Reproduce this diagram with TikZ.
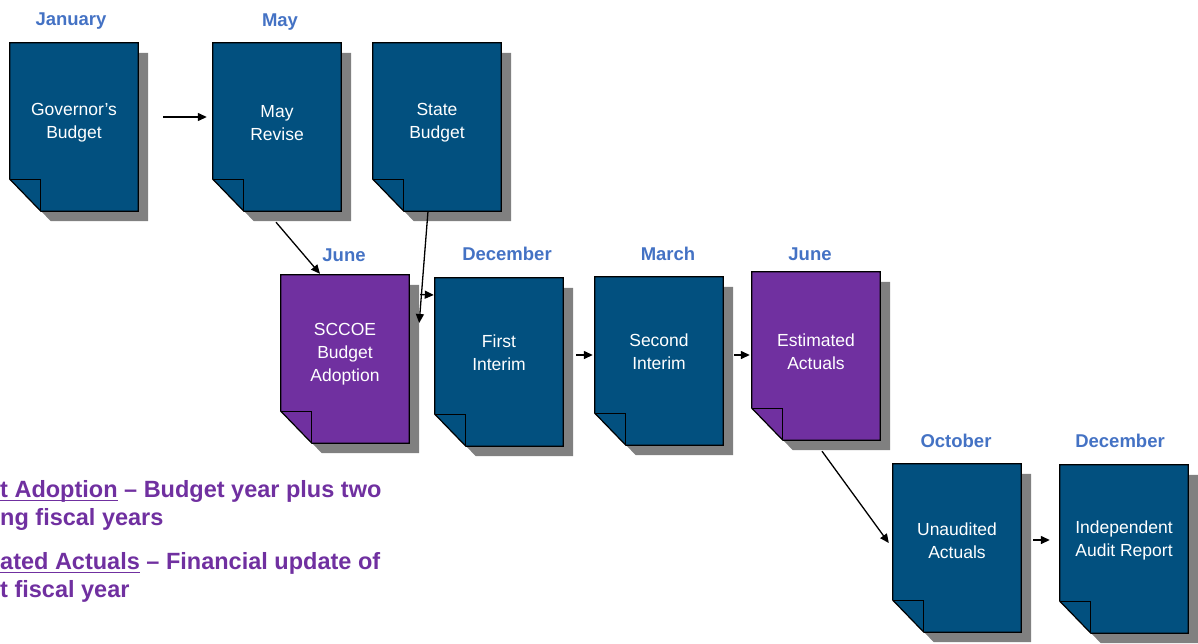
\documentclass[tikz,border=0pt]{standalone}
\usepackage{fontspec}
\setmainfont{Liberation Sans}
\usetikzlibrary{arrows.meta,calc}

\definecolor{sheetblue}{HTML}{02507F}
\definecolor{sheetpurple}{HTML}{7030A0}
\definecolor{monthblue}{HTML}{4472C4}
\definecolor{notepurple}{HTML}{7030A0}
\definecolor{sheetshadow}{HTML}{808080}

% underline drawn as a rule under the text, a little below the baseline
\newsavebox\notebox
\newcommand\notelined[1]{\sbox\notebox{#1}\rlap{\rule[-4pt]{\wd\notebox}{1.5pt}}\usebox\notebox}

\tikzset{
  sheetframe/.style={draw=none, minimum width=128, minimum height=168, inner sep=0pt},
  sheettext/.style={text=white, align=center, inner sep=0pt,
    font=\fontsize{17.5}{23}\selectfont},
  month/.style={text=monthblue, inner sep=0pt,
    font=\bfseries\fontsize{18.5}{20}\selectfont},
  note/.style={text=notepurple, align=left, inner sep=0pt, anchor=base west,
    font=\bfseries\fontsize{23.5}{28}\selectfont},
  flow/.style={line width=1.3pt, -{Triangle[length=9pt,width=8pt]}},
}

% a page with its lower left corner folded over, with a grey drop shadow
% #1 name, #2 left, #3 top, #4 fill, #5 text, #6 how far the text sits above the middle
\newcommand\sheet[6]{%
  \node[sheetframe] (#1) at ({#2+64},{#3+84}) {};
  \fill[sheetshadow] ($(#1.north west)+(10,10)$) -- ($(#1.north east)+(10,10)$)
     -- ($(#1.south east)+(10,10)$) -- ($(#1.south west)+(41,10)$)
     -- ($(#1.south west)+(10,-22)$) -- cycle;
  \filldraw[fill=#4, draw=black, line width=1.2pt] (#1.north west) -- (#1.north east)
     -- (#1.south east) -- ($(#1.south west)+(31,0)$)
     -- ($(#1.south west)+(0,-32)$) -- cycle;
  \draw[line width=1.2pt] ($(#1.south west)+(0,-32)$) -- ($(#1.south west)+(31,-32)$)
     -- ($(#1.south west)+(31,0)$);
  \node[sheettext] (#1-text) at ($(#1)+(0,-#6)$) {#5};
}

\begin{document}
\begin{tikzpicture}[x=1pt, y=-1pt]
\useasboundingbox (0,0) rectangle (1198,643);

% pages
\sheet{gov}{10}{43}{sheetblue}{Governor's\\Budget}{4}
\sheet{may}{213}{43}{sheetblue}{May\\Revise}{4}
\sheet{state}{373}{43}{sheetblue}{State\\Budget}{4}
\sheet{adopt}{281}{275}{sheetpurple}{SCCOE\\Budget\\Adoption}{5}
\sheet{first}{435}{278}{sheetblue}{First\\Interim}{9.5}
\sheet{second}{595}{277}{sheetblue}{Second\\Interim}{9}
\sheet{est}{752}{272}{sheetpurple}{Estimated\\Actuals}{4}
\sheet{unaud}{893}{464}{sheetblue}{Unaudited\\Actuals}{7.5}
\sheet{audit}{1060}{465}{sheetblue}{Independent\\Audit Report}{9}

% months above the pages
\node[month] (m-jan) at (71,21) {January};
\node[month] (m-may) at (280,22) {May};
\node[month] (m-june1) at (344,255) {June};
\node[month] (m-dec1) at (507,254) {December};
\node[month] (m-mar) at (668,254) {March};
\node[month] (m-june2) at (810,254) {June};
\node[month] (m-oct) at (956,441) {October};
\node[month] (m-dec2) at (1120,441) {December};

% flow between the pages
\draw[flow] ($(gov.east)+(25,-10)$) -- ($(may.west)+(-6,-10)$);
\draw[flow] ($(may.south)+(-1,11)$) -- ($(adopt.north)+(-25,-1)$);
\draw[flow] ($(state.south)+(-9,0)$) -- ($(adopt.east)+(10,-36)$);
\draw[flow] ($(adopt.east)+(11,-64.5)$) -- ($(first.west)+(-1,-67)$);
\draw[flow] ($(first.east)+(13,-7)$) -- ($(second.west)+(-2,-6)$);
\draw[flow] ($(second.east)+(11,-6)$) -- ($(est.west)+(-2,-1)$);
\draw[flow] ($(est.south)+(6,11)$) -- ($(unaud.west)+(-4,-5)$);
\draw[flow] ($(unaud.east)+(12,-8)$) -- ($(audit.west)+(-10,-9)$);

% notes (the base anchor sits on the last line)
\node[note] (note-adopt) at (0,525) {\notelined{t Adoption} -- Budget year plus two\\ng fiscal years};
\node[note] (note-est) at (0,597) {\notelined{ated Actuals} -- Financial update of\\t fiscal year};
\end{tikzpicture}
\end{document}
